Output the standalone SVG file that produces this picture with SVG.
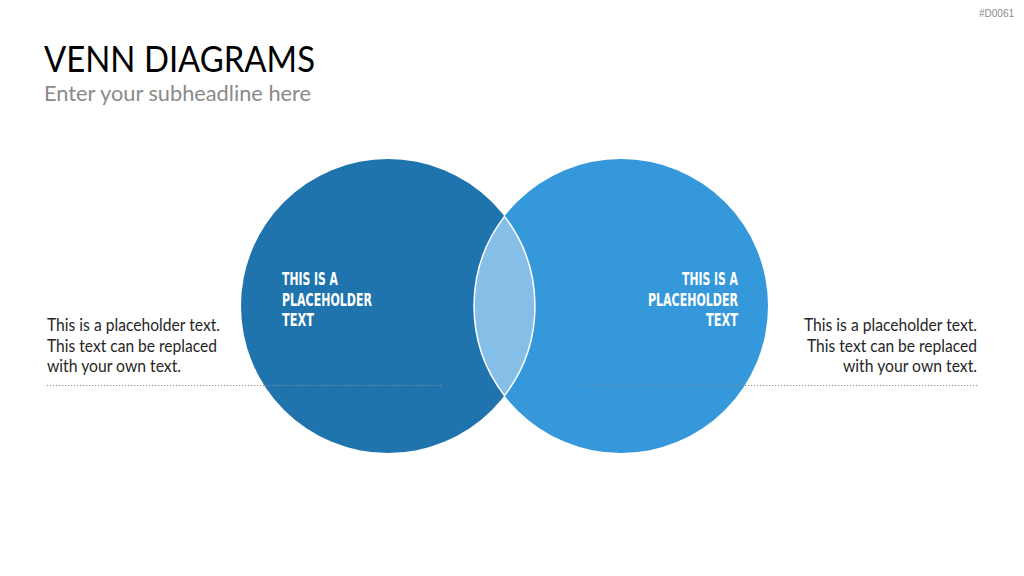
<svg xmlns="http://www.w3.org/2000/svg" width="1024" height="576" viewBox="0 0 1024 576">
<style>
.title{font-family:Lato,"Liberation Sans",sans-serif;font-size:36px;fill:#000}
.sub{font-family:Lato,"Liberation Sans",sans-serif;font-size:22px;fill:#8a8a8a}
.body{font-family:Lato,"Liberation Sans",sans-serif;font-size:17px;fill:#262626}
.head{font-family:"DejaVu Sans Condensed","DejaVu Sans",sans-serif;font-stretch:condensed;font-weight:bold;font-size:17.5px;fill:#fff}
.dot{stroke:#8c8c8c;stroke-width:1.2;stroke-dasharray:1.2 1.8;fill:none}
.code{font-family:"Liberation Sans",sans-serif;font-size:10px;fill:#8c8c8c}
</style>
<rect width="1024" height="576" fill="#fff"/>
<text class="code" x="1014" y="17" text-anchor="end">#D0061</text>
<text class="title" x="44" y="72" textLength="271" lengthAdjust="spacingAndGlyphs">VENN DIAGRAMS</text>
<text class="sub" x="44" y="101" textLength="267" lengthAdjust="spacingAndGlyphs">Enter your subheadline here</text>
<g id="circle-left"><circle cx="388" cy="306" r="147" fill="#2074ae"/></g>
<g id="circle-right"><circle cx="621" cy="306" r="147" fill="#3598db"/></g>
<g id="intersection"><path d="M504.5 216.4 A147 147 0 0 1 504.5 395.6 A147 147 0 0 1 504.5 216.4 Z" fill="#85bfe8" stroke="#fff" stroke-width="1.5"/></g>
<g id="connectors">
<line class="dot" x1="47" y1="385.5" x2="442" y2="385.5"/>
<line class="dot" x1="583" y1="385.5" x2="979" y2="385.5"/>
</g>
<g id="label-left">
<text class="head" x="282" y="285" textLength="56" lengthAdjust="spacingAndGlyphs">THIS IS A</text>
<text class="head" x="282" y="305.5" textLength="90" lengthAdjust="spacingAndGlyphs">PLACEHOLDER</text>
<text class="head" x="282" y="326" textLength="32" lengthAdjust="spacingAndGlyphs">TEXT</text>
</g>
<g id="label-right">
<text class="head" x="682" y="285" textLength="56" lengthAdjust="spacingAndGlyphs">THIS IS A</text>
<text class="head" x="648" y="305.5" textLength="90" lengthAdjust="spacingAndGlyphs">PLACEHOLDER</text>
<text class="head" x="706" y="326" textLength="32" lengthAdjust="spacingAndGlyphs">TEXT</text>
</g>
<g id="text-left">
<text class="body" x="47" y="331" textLength="173" lengthAdjust="spacingAndGlyphs">This is a placeholder text.</text>
<text class="body" x="47" y="351.5" textLength="170" lengthAdjust="spacingAndGlyphs">This text can be replaced</text>
<text class="body" x="47" y="372" textLength="134" lengthAdjust="spacingAndGlyphs">with your own text.</text>
</g>
<g id="text-right">
<text class="body" x="804" y="331" textLength="173" lengthAdjust="spacingAndGlyphs">This is a placeholder text.</text>
<text class="body" x="807" y="351.5" textLength="170" lengthAdjust="spacingAndGlyphs">This text can be replaced</text>
<text class="body" x="843" y="372" textLength="134" lengthAdjust="spacingAndGlyphs">with your own text.</text>
</g>
</svg>
